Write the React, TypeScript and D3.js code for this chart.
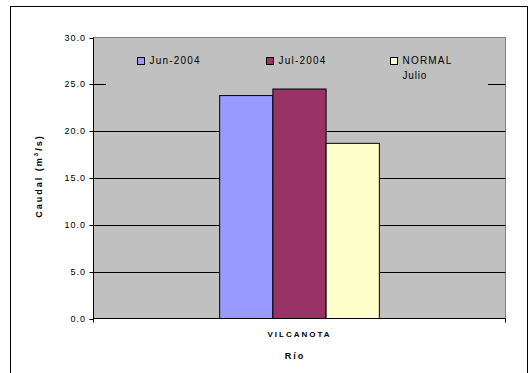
import React from 'react';
import * as d3 from 'd3';

const categories = ['VILCANOTA'];
const seriesNames = ['Jun-2004', 'Jul-2004', 'NORMAL Julio'];
const seriesValues = [[23.8], [24.5], [18.7]];
const seriesColors = ['#9999FF', '#993366', '#FFFFCC'];
const yTicks = [0, 5, 10, 15, 20, 25, 30];

const W = 529;
const H = 373;
const plot = { left: 93.5, top: 37.5, right: 505.5, bottom: 318.5 };

export default function App() {
  const y = d3.scaleLinear().domain([0, 30]).range([plot.bottom, plot.top]);
  const x = d3.scaleBand<string>().domain(categories).range([plot.left, plot.right]).paddingOuter(0.79);
  const xs = d3.scaleBand<string>().domain(seriesNames).range([0, x.bandwidth()]);
  const font = 'Arial, "Liberation Sans", sans-serif';

  const legendX = [137.5, 266.5, 390.5];

  return (
    <svg width={W} height={H} style={{ position: 'absolute', left: 0, top: 0 }} fontFamily={font}>
      <rect x={0} y={0} width={W} height={H} fill="#fff" />
      <rect x={10.5} y={6.5} width={517} height={380} fill="#fff" stroke="#000" />
      {/* plot area */}
      <rect x={plot.left} y={plot.top} width={plot.right - plot.left} height={plot.bottom - plot.top} fill="#C0C0C0" stroke="#808080" />
      {/* grid lines */}
      {yTicks.filter(t => t > 0 && t < 30).map(t => (
        <line key={t} x1={plot.left} x2={plot.right} y1={Math.round(y(t)) + 0.5} y2={Math.round(y(t)) + 0.5} stroke="#000" />
      ))}
      {/* legend box covering grid */}
      <rect x={106} y={plot.top + 1} width={382} height={52} fill="#C0C0C0" />
      {/* bars */}
      {categories.map((c, ci) => (
        <g key={c}>
          {seriesNames.map((s, si) => (
            <rect key={s} x={(x(c) ?? 0) + (xs(s) ?? 0)} y={y(seriesValues[si][ci])} width={xs.bandwidth()}
              height={plot.bottom - y(seriesValues[si][ci])} fill={seriesColors[si]} stroke="#000" strokeWidth={1} />
          ))}
        </g>
      ))}
      {/* axes */}
      <line x1={plot.left} x2={plot.left} y1={plot.top} y2={plot.bottom} stroke="#000" />
      <line x1={plot.left} x2={plot.right} y1={plot.bottom} y2={plot.bottom} stroke="#000" />
      {yTicks.map(t => (
        <g key={t}>
          <line x1={plot.left - 4} x2={plot.left} y1={Math.round(y(t)) + 0.5} y2={Math.round(y(t)) + 0.5} stroke="#000" />
          <text x={86} y={y(t) + 3} textAnchor="end" fontSize={9} letterSpacing={1} fill="#000">{t.toFixed(1)}</text>
        </g>
      ))}
      <line x1={plot.left} x2={plot.left} y1={plot.bottom} y2={plot.bottom + 4} stroke="#000" />
      <line x1={plot.right} x2={plot.right} y1={plot.bottom} y2={plot.bottom + 4} stroke="#000" />
      {categories.map(c => (
        <text key={c} x={(x(c) ?? 0) + x.bandwidth() / 2} y={337} textAnchor="middle" fontSize={8} fontWeight="bold" letterSpacing={2}>{c}</text>
      ))}
      <text x={295} y={359} textAnchor="middle" fontSize={9} fontWeight="bold" letterSpacing={2}>Río</text>
      <text transform="translate(42,176) rotate(-90)" textAnchor="middle" fontSize={9} fontWeight="bold" letterSpacing={2}>
        Caudal (m<tspan dy={-4} fontSize={6}>3</tspan><tspan dy={4}>/s)</tspan>
      </text>
      {/* legend */}
      {seriesNames.map((s, i) => (
        <g key={s}>
          <rect x={legendX[i]} y={57.5} width={7} height={7} fill={seriesColors[i]} stroke="#000" />
          {i < 2 ? (
            <text x={legendX[i] + 12} y={64} fontSize={10} letterSpacing={1.2}>{s}</text>
          ) : (
            <>
              <text x={legendX[i] + 12} y={64} fontSize={10} letterSpacing={1.2}>{s.split(' ')[0]}</text>
              <text x={legendX[i] + 12} y={79} fontSize={10} letterSpacing={0.8}>{s.split(' ')[1]}</text>
            </>
          )}
        </g>
      ))}
    </svg>
  );
}
